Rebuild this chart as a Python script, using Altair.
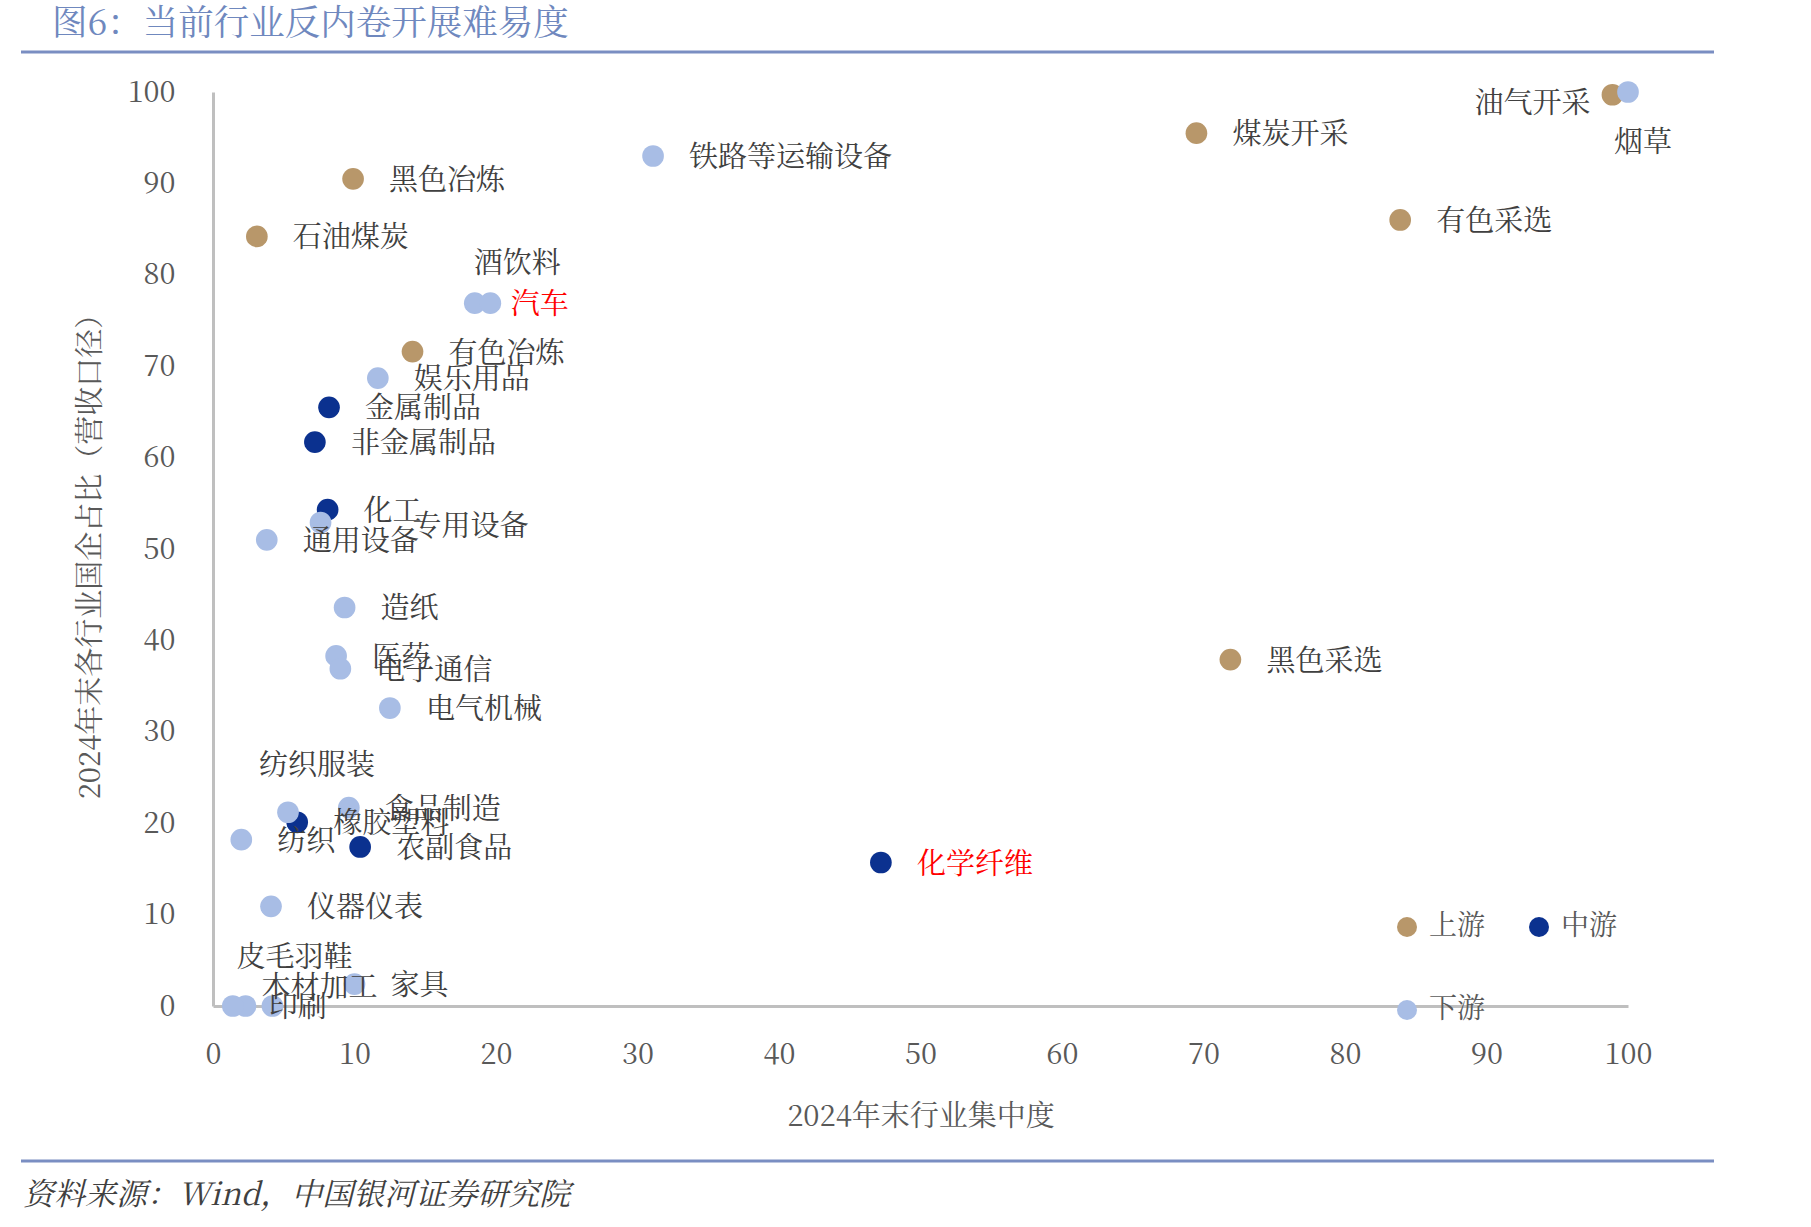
import altair as alt
import pandas as pd

# ---------------- data ----------------
names = [
    "油气开采", "煤炭开采", "有色采选", "黑色采选", "黑色冶炼", "石油煤炭", "有色冶炼",
    "化学纤维", "金属制品", "非金属制品", "化工", "橡胶塑料", "农副食品",
    "烟草", "铁路等运输设备", "汽车", "酒饮料", "娱乐用品", "专用设备", "通用设备",
    "造纸", "医药", "电子通信", "电气机械", "纺织服装", "食品制造", "纺织",
    "仪器仪表", "家具", "皮毛羽鞋", "木材加工", "印刷",
]
concentration = [
    98.9, 69.5, 83.9, 71.9, 9.9, 3.1, 14.1,
    47.2, 8.2, 7.2, 8.1, 5.95, 10.4,
    100.0, 31.1, 18.5, 19.6, 11.65, 7.6, 3.8,
    9.3, 8.7, 9.0, 12.5, 5.3, 9.6, 2.0,
    4.1, 10.0, 4.2, 2.3, 1.4,
]
soe_share = [
    99.7, 95.5, 86.0, 37.9, 90.5, 84.2, 71.6,
    15.7, 65.5, 61.7, 54.3, 20.1, 17.4,
    100.0, 93.0, 76.9, 76.9, 68.7, 52.9, 51.0,
    43.6, 38.3, 36.9, 32.6, 21.2, 21.7, 18.2,
    10.9, 2.4, 0.0, 0.0, 0.0,
]
groups = (["上游"] * 7) + (["中游"] * 6) + (["下游"] * 19)

group_order = ["上游", "中游", "下游"]
red_labels = ["汽车", "化学纤维"]

title_text = "图6：当前行业反内卷开展难易度"
source_text = "资料来源：Wind，中国银河证券研究院"
x_title = "2024年末行业集中度"
y_title = "2024年末各行业国企占比（营收口径）"
tick_values = list(range(0, 101, 10))

# ---------------- style / layout ----------------
group_colors = ["#B8976A", "#0B318F", "#A8BDE5"]
FONT = "Noto Serif CJK SC, Liberation Serif, Noto Sans CJK SC, serif"
W, H = 1415, 914
PAD_L, PAD_T = 213, 92

# label offsets (dx, dy, align) for labels not placed to the right of their dot
label_special = {
    "油气开采": (-22, 9, "right"),
    "烟草": (15, 51, "center"),
    "酒饮料": (27, -39, "center"),
    "专用设备": (92, 5, "left"),
    "纺织服装": (29, -46, "center"),
    "木材加工": (16, -18, "left"),
    "皮毛羽鞋": (22, -48, "center"),
}

df = pd.DataFrame({"name": names, "x": concentration, "y": soe_share, "group": groups})
df["gidx"] = [group_order.index(g) for g in groups]

xscale = alt.Scale(domain=[0, 100], nice=False, zero=False)
yscale = alt.Scale(domain=[0, 100], nice=False, zero=False)

x_enc = alt.X(
    "x:Q", scale=xscale, title=x_title,
    axis=alt.Axis(values=tick_values, grid=False, ticks=False, domainColor="#BFBFBF",
                  domainWidth=3, labelFont=FONT, labelFontSize=29, labelColor="#595959",
                  labelPadding=34, labelFlush=False, titleFont=FONT, titleFontSize=29,
                  titleColor="#595959", titleFontWeight="normal", titlePadding=33),
)
y_enc = alt.Y(
    "y:Q", scale=yscale, title=y_title,
    axis=alt.Axis(values=tick_values, grid=False, ticks=False, domainColor="#BFBFBF",
                  domainWidth=3, labelFont=FONT, labelFontSize=29, labelColor="#595959",
                  labelPadding=38, labelFlush=False, titleFont=FONT, titleFontSize=29,
                  titleColor="#595959", titleFontWeight="normal", titlePadding=22),
)

base = alt.Chart(df)

points = base.mark_circle(size=470, opacity=1).encode(
    x=x_enc,
    y=y_enc,
    color=alt.Color(
        "group:N",
        scale=alt.Scale(domain=group_order, range=group_colors),
        legend=alt.Legend(title=None, orient="none", legendX=1180, legendY=821,
                          direction="horizontal", columns=2, columnPadding=39,
                          rowPadding=55, symbolSize=400, symbolType="circle",
                          symbolStrokeWidth=0, labelFont=FONT, labelFontSize=28,
                          labelColor="#595959", labelOffset=8, padding=0),
    ),
    order=alt.Order("gidx:Q"),
)

label_color = alt.condition(
    alt.FieldOneOfPredicate(field="name", oneOf=red_labels),
    alt.value("#FF0000"), alt.value("#404040"),
)

labels = [
    base.transform_filter(
        ~alt.FieldOneOfPredicate(field="name", oneOf=list(label_special.keys()))
    ).mark_text(font=FONT, fontSize=29, align="left", baseline="middle", dx=36, dy=2).encode(
        x="x:Q", y="y:Q", text="name:N", color=label_color
    )
]
for nm, (dx, dy, al) in label_special.items():
    labels.append(
        base.transform_filter(alt.datum.name == nm)
        .mark_text(font=FONT, fontSize=29, align=al, baseline="middle", dx=dx, dy=dy)
        .encode(x="x:Q", y="y:Q", text="name:N", color=label_color)
    )

one = pd.DataFrame({"k": [0]})
rule_top = alt.Chart(one).mark_rule(color="#7A8EC2", strokeWidth=3).encode(
    x=alt.value(21 - PAD_L), x2=alt.value(1714 - PAD_L), y=alt.value(52 - PAD_T)
)
rule_bottom = alt.Chart(one).mark_rule(color="#7A8EC2", strokeWidth=3).encode(
    x=alt.value(21 - PAD_L), x2=alt.value(1714 - PAD_L), y=alt.value(1161 - PAD_T)
)
title_mark = alt.Chart(one).mark_text(
    font=FONT, fontSize=35.5, color="#6F88BE", align="left", baseline="middle"
).encode(x=alt.value(52 - PAD_L), y=alt.value(24 - PAD_T), text=alt.value(title_text))
source_mark = alt.Chart(one).mark_text(
    font=FONT, fontSize=31, color="#404040", align="left", baseline="middle", fontStyle="italic"
).encode(x=alt.value(23 - PAD_L), y=alt.value(1196 - PAD_T), text=alt.value(source_text))

chart = alt.layer(points, *labels, rule_top, rule_bottom, title_mark, source_mark).properties(
    width=W, height=H,
    autosize=alt.AutoSizeParams(type="none"),
    padding={"left": PAD_L, "top": PAD_T, "right": 1811 - PAD_L - W, "bottom": 1227 - PAD_T - H},
    background="white",
).configure_view(stroke=None)

chart.save("out.html", embed_options={"renderer": "svg", "actions": False})
